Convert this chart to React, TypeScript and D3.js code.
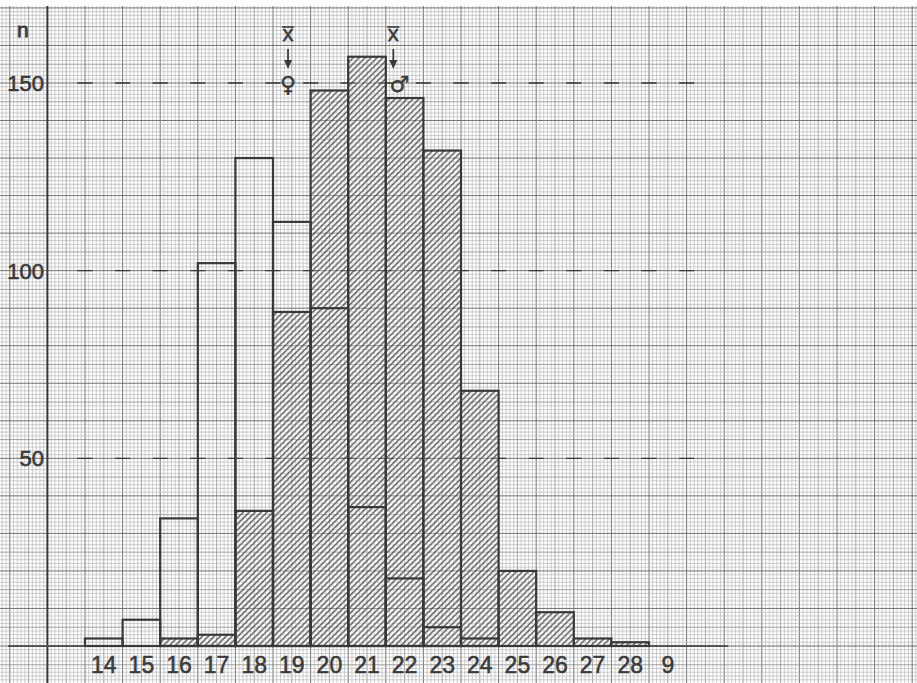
import React, { useEffect, useRef } from "react";
import * as d3 from "d3";

// size classes (left edge of each bar)
const classes = [14, 15, 16, 17, 18, 19, 20, 21, 22, 23, 24, 25, 26, 27, 28];
// open bars (female)
const femaleCounts = [2, 7, 34, 102, 130, 113, 90, 37, 18, 5, 2, 0, 0, 0, 0];
// hatched bars (male)
const maleCounts = [0, 0, 2, 3, 36, 89, 148, 157, 146, 132, 68, 20, 9, 2, 1];
const xTickLabels = ["14", "15", "16", "17", "18", "19", "20", "21", "22", "23", "24", "25", "26", "27", "28", "9"];
const yTicks = [50, 100, 150];
const meanFemale = 19.4;
const meanMale = 22.2;

const W = 917;
const H = 683;
const ink = "#383838";
const textInk = "#3a3a3a";

function App() {
  const ref = useRef<SVGSVGElement>(null);

  useEffect(() => {
    const svg = d3.select(ref.current);
    svg.selectAll("*").remove();

    const x = d3.scaleLinear().domain([14, 29]).range([85, 649]);
    const y = d3.scaleLinear().domain([0, 150]).range([646, 83]);

    // hatch pattern for the male bars
    const defs = svg.append("defs");
    const pat = defs.append("pattern")
      .attr("id", "hatch")
      .attr("patternUnits", "userSpaceOnUse")
      .attr("width", 4.2)
      .attr("height", 4.2)
      .attr("patternTransform", "rotate(45)");
    pat.append("rect").attr("width", 4.2).attr("height", 4.2).attr("fill", "#fff").attr("opacity", 0.25);
    pat.append("line")
      .attr("x1", 0.8).attr("y1", 0).attr("x2", 0.8).attr("y2", 4.2)
      .attr("stroke", "#3a3a3a").attr("stroke-width", 1.1);

    svg.append("rect").attr("width", W).attr("height", H).attr("fill", "#fdfdfd");

    // graph paper
    const grid = svg.append("g");
    const kx = d3.range(Math.ceil((x.invert(0) - 14) * 10), Math.floor((x.invert(W) - 14) * 10) + 1);
    const ky = d3.range(Math.ceil(y.invert(H)), Math.floor(y.invert(6)) + 1);
    const gStroke = (k: number) => (k % 10 === 0 ? "#666" : k % 5 === 0 ? "#8a8a8a" : "#b0b0b0");
    const gWidth = (k: number) => (k % 10 === 0 ? 0.9 : k % 5 === 0 ? 0.75 : 0.6);
    grid.selectAll(".vx").data(kx).join("line")
      .attr("class", "vx")
      .attr("x1", k => x(14 + k / 10)).attr("x2", k => x(14 + k / 10))
      .attr("y1", 6).attr("y2", H)
      .attr("stroke", k => gStroke(k)).attr("stroke-width", k => gWidth(k));
    grid.selectAll(".hy").data(ky).join("line")
      .attr("class", "hy")
      .attr("y1", k => y(k)).attr("y2", k => y(k))
      .attr("x1", 0).attr("x2", W)
      .attr("stroke", k => gStroke(k)).attr("stroke-width", k => gWidth(k));

    // dashed reference lines
    svg.selectAll(".ref").data(yTicks).join("line")
      .attr("class", "ref")
      .attr("x1", x(13.8)).attr("x2", x(30.3))
      .attr("y1", d => y(d)).attr("y2", d => y(d))
      .attr("stroke", ink).attr("stroke-width", 1.4)
      .attr("stroke-dasharray", "15 22.6");

    // axes
    svg.append("line")
      .attr("x1", x(13)).attr("x2", x(13)).attr("y1", 6).attr("y2", H)
      .attr("stroke", ink).attr("stroke-width", 2);
    svg.append("line")
      .attr("x1", 8).attr("x2", x(31.1)).attr("y1", y(0)).attr("y2", y(0))
      .attr("stroke", "#555").attr("stroke-width", 2.2);
    svg.append("line")
      .attr("x1", x(31.1)).attr("x2", W).attr("y1", y(0)).attr("y2", y(0))
      .attr("stroke", "#999").attr("stroke-width", 1).attr("stroke-dasharray", "2 3");

    // hatched bars
    svg.selectAll(".male").data(classes.filter((c, i) => maleCounts[i] > 0)).join("rect")
      .attr("class", "male")
      .attr("x", c => x(c)).attr("width", c => x(c + 1) - x(c))
      .attr("y", c => y(maleCounts[classes.indexOf(c)]))
      .attr("height", c => y(0) - y(maleCounts[classes.indexOf(c)]))
      .attr("fill", "url(#hatch)")
      .attr("stroke", ink).attr("stroke-width", 2.2);

    // open bars
    svg.selectAll(".female").data(classes.filter((c, i) => femaleCounts[i] > 0)).join("rect")
      .attr("class", "female")
      .attr("x", c => x(c)).attr("width", c => x(c + 1) - x(c))
      .attr("y", c => y(femaleCounts[classes.indexOf(c)]))
      .attr("height", c => y(0) - y(femaleCounts[classes.indexOf(c)]))
      .attr("fill", "none")
      .attr("stroke", ink).attr("stroke-width", 2.2);

    // x labels
    svg.selectAll(".xl").data(xTickLabels).join("text")
      .attr("class", "xl")
      .attr("x", (d, i) => x(14 + i + 0.5))
      .attr("y", 673)
      .attr("text-anchor", "middle")
      .style("font-family", "'Liberation Sans Narrow', 'Liberation Sans', sans-serif")
      .style("font-size", "23px")
      .attr("fill", textInk).attr("stroke", textInk).attr("stroke-width", 0.5)
      .text(d => d);

    // y labels
    svg.selectAll(".yl").data(yTicks).join("text")
      .attr("class", "yl")
      .attr("x", 44)
      .attr("y", d => y(d) + 8)
      .attr("text-anchor", "end")
      .style("font-family", "'Liberation Sans', sans-serif")
      .style("font-size", "22px")
      .attr("fill", textInk).attr("stroke", textInk).attr("stroke-width", 0.6)
      .text(d => d);

    svg.append("text")
      .attr("x", 17).attr("y", 37)
      .style("font-family", "'Liberation Sans', sans-serif")
      .style("font-size", "21px")
      .attr("fill", textInk).attr("stroke", textInk).attr("stroke-width", 0.8)
      .text("n");

    // mean markers
    const means = [
      { v: meanFemale, sym: "♀", dx: 0 },
      { v: meanMale, sym: "♂", dx: 6 },
    ];
    const mg = svg.selectAll(".mean").data(means).join("g")
      .attr("class", "mean")
      .attr("transform", d => `translate(${x(d.v)},0)`);
    mg.append("text")
      .attr("y", 41).attr("text-anchor", "middle")
      .style("font-family", "'Liberation Sans', sans-serif")
      .style("font-size", "22px")
      .attr("fill", textInk).attr("stroke", textInk).attr("stroke-width", 0.5)
      .text("x");
    mg.append("line")
      .attr("x1", -6).attr("x2", 6).attr("y1", 27).attr("y2", 27)
      .attr("stroke", textInk).attr("stroke-width", 1.6);
    mg.append("line")
      .attr("x1", 0).attr("x2", 0).attr("y1", 49).attr("y2", 64)
      .attr("stroke", textInk).attr("stroke-width", 1.8);
    mg.append("path")
      .attr("d", "M-4,60 L4,60 L0,69 Z")
      .attr("fill", textInk);
    mg.append("text")
      .attr("x", d => d.dx).attr("y", 92).attr("text-anchor", "middle")
      .style("font-family", "'DejaVu Sans', sans-serif")
      .style("font-size", "22px")
      .attr("fill", textInk).attr("stroke", textInk).attr("stroke-width", 0.5)
      .text(d => d.sym);
  }, []);

  return (
    <svg ref={ref} width={W} height={H} style={{ position: "absolute", left: 0, top: 0 }} />
  );
}

export default App;
